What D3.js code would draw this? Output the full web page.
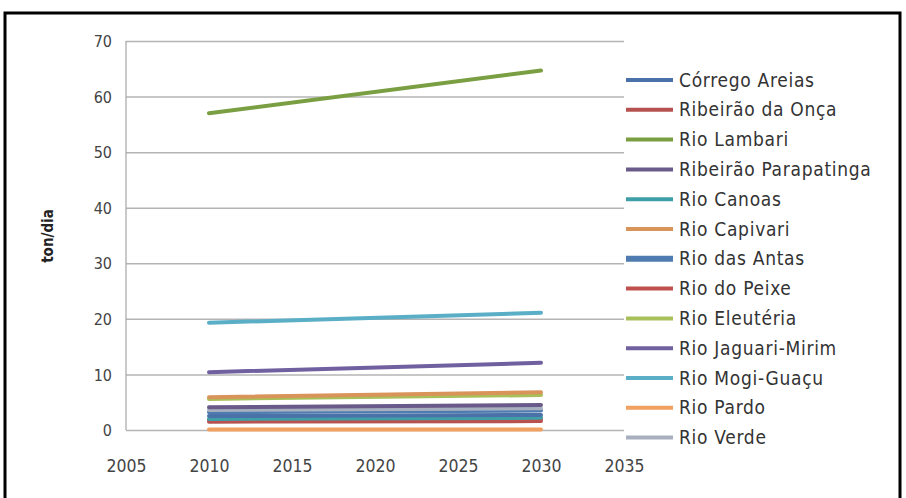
<!DOCTYPE html>
<html><head><meta charset="utf-8">
<script src="https://cdn.jsdelivr.net/npm/d3@7"></script>
<style>body{margin:0;background:#fff}</style>
</head><body>
<svg id="c" width="906" height="498"></svg>
<script>
const years = [2010, 2030];
const seriesNames = ["Córrego Areias","Ribeirão da Onça","Rio Lambari","Ribeirão Parapatinga","Rio Canoas","Rio Capivari","Rio das Antas","Rio do Peixe","Rio Eleutéria","Rio Jaguari-Mirim","Rio Mogi-Guaçu","Rio Pardo","Rio Verde"];
const corregoAreias = [2.5, 2.7];
const ribeiraoOnca = [1.5, 1.6];
const rioLambari = [57.0, 64.7];
const ribeiraoParapatinga = [4.1, 4.5];
const rioCanoas = [2.0, 2.2];
const rioCapivari = [5.9, 6.8];
const rioDasAntas = [3.2, 3.5];
const rioDoPeixe = [1.8, 2.0];
const rioEleuteria = [5.6, 6.3];
const rioJaguariMirim = [10.4, 12.1];
const rioMogiGuacu = [19.3, 21.1];
const rioPardo = [0.1, 0.1];
const rioVerde = [3.6, 3.9];
const seriesValues = [corregoAreias, ribeiraoOnca, rioLambari, ribeiraoParapatinga, rioCanoas, rioCapivari, rioDasAntas, rioDoPeixe, rioEleuteria, rioJaguariMirim, rioMogiGuacu, rioPardo, rioVerde];
const colors = ["#4a72a8","#b5524f","#7a9e42","#6a5a8a","#3f9fa6","#d9945a","#4f7cb0","#c0504d","#a8c05a","#7060a0","#5aaec6","#f0a060","#a8b0c0"];
const xTicks = [2005, 2010, 2015, 2020, 2025, 2030, 2035];
const yTicks = [0, 10, 20, 30, 40, 50, 60, 70];
const yTitle = "ton/dia";

const svg = d3.select("#c");
const font = "'DejaVu Sans Condensed','Liberation Sans Narrow',sans-serif";
svg.append("rect").attr("x",5).attr("y",13).attr("width",895).attr("height",500)
  .attr("fill","#fff").attr("stroke","#000").attr("stroke-width",3);

const x = d3.scaleLinear().domain([2005, 2035]).range([126, 624]);
const y = d3.scaleLinear().domain([0, 70]).range([430, 41]);

// gridlines
const gy = svg.append("g").attr("transform","translate(126,0)")
  .call(d3.axisLeft(y).tickValues(yTicks).tickSize(-498).tickFormat(""));
gy.select(".domain").remove();
gy.selectAll(".tick line").attr("stroke","#b4b4b4").attr("stroke-width",1.5);
svg.append("line").attr("x1",126).attr("x2",126).attr("y1",y(70)).attr("y2",y(0)).attr("stroke","#a6a6a6").attr("stroke-width",1.2);

// y labels
const yl = svg.append("g").attr("transform","translate(112,0)")
  .call(d3.axisLeft(y).tickValues(yTicks).tickSize(0).tickPadding(0));
yl.select(".domain").remove();
yl.selectAll("text").attr("font-family",font).attr("font-size",16).attr("fill","#444").attr("dy","0.35em");

// x labels
const xl = svg.append("g").attr("transform","translate(0,466)")
  .call(d3.axisBottom(x).tickValues(xTicks).tickFormat(d3.format("d")).tickSize(0).tickPadding(0));
xl.select(".domain").remove();
xl.selectAll("text").attr("font-family",font).attr("font-size",17.5).attr("fill","#444").attr("dy","0.35em");

// y title
svg.append("text").attr("transform","translate(48,236) rotate(-90)").attr("text-anchor","middle").attr("dy","0.35em")
  .attr("font-family",font).attr("font-weight","bold").attr("font-size",15).attr("fill","#222").text(yTitle);

// lines
const line = d3.line().x((d,i)=>x(years[i])).y(d=>y(d));
const order = [11,1,7,4,0,6,12,3,8,5,9,10,2];
order.forEach(i=>{
  svg.append("path").attr("d", line(seriesValues[i])).attr("fill","none")
    .attr("stroke", colors[i]).attr("stroke-width",4).attr("stroke-linecap","round");
});

// legend
const lg = svg.append("g");
seriesNames.forEach((n,i)=>{
  const yy = 80 + i*29.8;
  lg.append("line").attr("x1",626).attr("x2",673).attr("y1",yy).attr("y2",yy)
    .attr("stroke",colors[i]).attr("stroke-width", i===6?6:4);
  lg.append("text").attr("x",679).attr("y",yy).attr("dy","0.35em")
    .attr("font-family",font).attr("font-size",19).attr("fill","#333").attr("letter-spacing",0.7).text(n);
});
</script>
</body></html>
